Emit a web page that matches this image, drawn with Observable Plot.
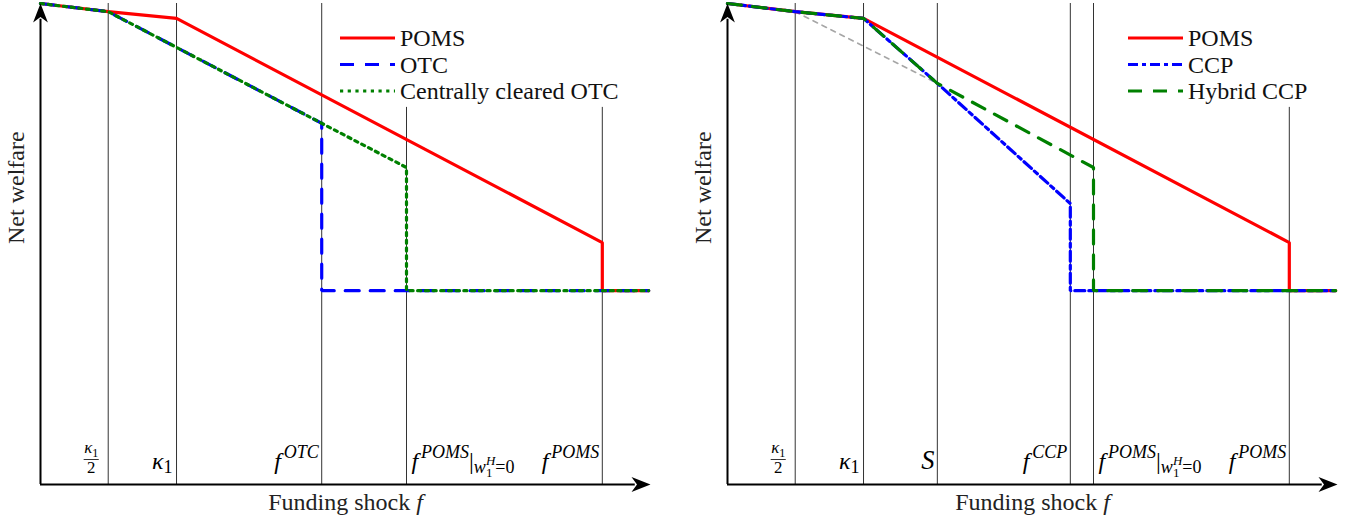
<!DOCTYPE html>
<html>
<head>
<meta charset="utf-8">
<script src="https://cdn.jsdelivr.net/npm/d3@7"></script>
<script src="https://cdn.jsdelivr.net/npm/@observablehq/plot@0.6"></script>
<style>
html,body{margin:0;padding:0;background:#fff;}
#root{position:relative;width:1356px;height:521px;overflow:hidden;background:#fff;}
.panel{position:absolute;top:0;height:521px;}
.panel svg{position:absolute;left:0;top:0;}
.panel svg text, .panel svg tspan{font-family:'Liberation Serif','Times New Roman',serif;}
</style>
</head>
<body>
<div id="root"></div>
<script>
// ================= DATA =================
// x: funding shock f (0..100 = axis length), y: net welfare (0..100 = axis height)
const xAxisEnd = 100, yAxisEnd = 100;

// ---- left panel ----
const cutsLeft      = [11.1, 22.3, 46.1, 60.0, 92.1];
const cutsLeftTop   = [100, 100, 100, 78.4, 78.4];
const cutLabelsLeft = ["$\\frac{\\kappa_1}{2}$", "$\\kappa_1$", "$f^{OTC}$", "$f^{POMS}|_{w_1^H=0}$", "$f^{POMS}$"];
const seriesLeft    = ["POMS", "OTC", "Centrally cleared OTC"];
const pomsLeftF  = [0, 11.1, 22.3, 92.1, 92.1, 99.7];
const pomsLeftW  = [100, 98.3, 96.9, 50.3, 40.3, 40.3];
const otcF       = [0, 11.1, 46.1, 46.1, 99.7];
const otcW       = [100, 98.3, 75.1, 40.3, 40.3];
const ccOtcF     = [0, 11.1, 46.1, 60.0, 60.0, 99.7];
const ccOtcW     = [100, 98.3, 75.1, 65.9, 40.3, 40.3];

// ---- right panel ----
const cutsRight      = [11.1, 22.3, 34.4, 56.2, 60.0, 92.1];
const cutsRightTop   = [100, 100, 100, 100, 100, 78.4];
const cutLabelsRight = ["$\\frac{\\kappa_1}{2}$", "$\\kappa_1$", "$\\mathcal{S}$", "$f^{CCP}$", "$f^{POMS}|_{w_1^H=0}$", "$f^{POMS}$"];
const seriesRight    = ["POMS", "CCP", "Hybrid CCP"];
const pomsRightF = [0, 11.1, 22.3, 92.1, 92.1, 99.7];
const pomsRightW = [100, 98.3, 96.9, 50.3, 40.3, 40.3];
const ccpF       = [0, 11.1, 22.3, 34.4, 56.2, 56.2, 99.7];
const ccpW       = [100, 98.3, 96.9, 83.4, 58.4, 40.3, 40.3];
const hybridF    = [0, 11.1, 22.3, 34.4, 60.0, 60.0, 99.7];
const hybridW    = [100, 98.3, 96.9, 83.4, 65.9, 40.3, 40.3];
const refF       = [11.1, 34.4];
const refW       = [98.3, 83.4];

const xTitle = "Funding shock $f$";
const yTitle = "Net welfare";

// ================= STYLES =================
const FONT = "'Liberation Serif','Times New Roman',serif";
const seriesStyle = {
  "POMS": {stroke: "#ff0000", dash: null},
  "OTC": {stroke: "#0000ff", dash: "14,11"},
  "Centrally cleared OTC": {stroke: "#008000", dash: "3.2,4.5"},
  "CCP": {stroke: "#0000ff", dash: "10,4,4,4"},
  "Hybrid CCP": {stroke: "#008000", dash: "14,11"}
};
const labelStyle = {
  "$\\frac{\\kappa_1}{2}$": {anchor: "middle", dx: -17},
  "$\\kappa_1$": {anchor: "end", dx: -4},
  "$f^{OTC}$": {anchor: "end", dx: -3},
  "$f^{CCP}$": {anchor: "end", dx: -3},
  "$\\mathcal{S}$": {anchor: "end", dx: -3},
  "$f^{POMS}|_{w_1^H=0}$": {anchor: "start", dx: 5},
  "$f^{POMS}$": {anchor: "end", dx: -3}
};
const TICK_SIZE = 24;

const rows = (F, W) => F.map((f, i) => ({f, w: W[i]}));

// arrowheads (tip at origin)
const stealthUp = {draw(c) { c.moveTo(0, 0); c.lineTo(7.4, 19); c.lineTo(0, 13.5); c.lineTo(-7.4, 19); c.closePath(); }};
const stealthRight = {draw(c) { c.moveTo(0, 0); c.lineTo(-19, 7.4); c.lineTo(-13.5, 0); c.lineTo(-19, -7.4); c.closePath(); }};

// ================= RICH TEXT =================
const mctx = document.createElement("canvas").getContext("2d");
function runWidth(r) { mctx.font = `${r.italic ? "italic " : ""}${r.size}px 'Liberation Serif', serif`; return mctx.measureText(r.text).width; }
function widthOf(runs) { return runs.reduce((s, r) => s + runWidth(r), 0); }
function readGroup(s, i) {
  if (s[i] === "{") {
    let depth = 0, j = i;
    for (; j < s.length; j++) { if (s[j] === "{") depth++; else if (s[j] === "}") { depth--; if (depth === 0) break; } }
    return {content: s.slice(i + 1, j), end: j + 1};
  }
  if (s[i] === "\\") { const m = /^\\[a-zA-Z]+/.exec(s.slice(i)); return {content: m[0], end: i + m[0].length}; }
  return {content: s[i], end: i + 1};
}
function parseMath(s, size, shift, level, out) {
  let i = 0, lastSub = null;
  while (i < s.length) {
    const c = s[i];
    if (c === "^" || c === "_") {
      const g = readGroup(s, i + 1); i = g.end;
      const ss = level === 0 ? size * 0.75 : size * 0.72;
      const sh = c === "^" ? shift + size * 0.45 : shift - size * (level === 0 ? 0.18 : 0.25);
      const prev = out[out.length - 1];
      const start = out.length;
      parseMath(g.content, ss, sh, level + 1, out);
      if (c === "^" && lastSub) out[start].dx = -lastSub;
      else if (c === "^" && prev && prev.text === "f") out[start].dx = size * 0.12;
      lastSub = c === "_" ? widthOf(out.slice(start)) : null;
      continue;
    }
    lastSub = null;
    if (c === "\\") {
      const m = /^\\([a-zA-Z]+)/.exec(s.slice(i)); i += m[0].length;
      if (m[1] === "kappa") out.push({text: "κ", italic: true, size, shift});
      else if (m[1] === "mathcal") { const g = readGroup(s, i); i = g.end; out.push({text: g.content, italic: true, size: size * 1.1, shift}); }
      continue;
    }
    if (c === "{" || c === "}") { i++; continue; }
    out.push({text: c, italic: /[A-Za-z]/.test(c), size, shift});
    i++;
  }
}
function parseRich(src, size) {
  const out = [];
  src.split("$").forEach((seg, k) => {
    if (!seg) return;
    if (k % 2) parseMath(seg, size, 0, 0, out);
    else out.push({text: seg, italic: false, size, shift: 0});
  });
  const merged = [];
  for (const r of out) {
    const p = merged[merged.length - 1];
    if (p && !r.dx && p.italic === r.italic && p.size === r.size && p.shift === r.shift) p.text += r.text;
    else merged.push({...r});
  }
  return merged;
}
const NS = "http://www.w3.org/2000/svg";
function appendRuns(el, runs, first) {
  let cur = 0;
  runs.forEach((r, k) => {
    const t = document.createElementNS(NS, "tspan");
    t.textContent = r.text;
    t.setAttribute("font-size", r.size);
    t.setAttribute("font-style", r.italic ? "italic" : "normal");
    if (k === 0 && first) { t.setAttribute("x", first.x); t.setAttribute("y", first.y - r.shift); }
    else { const d = cur - r.shift; if (d) t.setAttribute("dy", d); }
    cur = r.shift;
    if (r.dx) t.setAttribute("dx", r.dx);
    el.appendChild(t);
  });
}
function renderRich(el, src, size) {
  while (el.firstChild) el.removeChild(el.firstChild);
  const frac = /^\$\\frac\{(.*)\}\{(.*)\}\$$/.exec(src);
  if (frac) {
    const num = [], den = [];
    parseMath(frac[1], size * 0.7, 0, 1, num);
    parseMath(frac[2], size * 0.7, 0, 1, den);
    appendRuns(el, num, {x: 0, y: -16});
    appendRuns(el, den, {x: 0, y: 4});
    const w = Math.max(widthOf(num), widthOf(den)) + 1;
    const line = document.createElementNS(NS, "line");
    const tr = el.getAttribute("transform");
    if (tr) line.setAttribute("transform", tr);
    line.setAttribute("x1", -w / 2); line.setAttribute("x2", w / 2);
    line.setAttribute("y1", -9); line.setAttribute("y2", -9);
    line.setAttribute("stroke", "black"); line.setAttribute("stroke-width", 0.8);
    el.parentNode.appendChild(line);
    return;
  }
  appendRuns(el, parseRich(src, size), null);
}

// ================= PANELS =================
function makePanel(cfg) {
  const cutRows = cfg.cuts.map((f, i) => ({f, top: cfg.cutsTop[i], label: cfg.labels[i]}));
  const marks = [
    Plot.ruleX(cutRows, {x: "f", y1: 0, y2: "top", stroke: "#333", strokeWidth: 1})
  ];
  if (cfg.ref) marks.push(Plot.line(cfg.ref, {x: "f", y: "w", stroke: "#a6a6a6", strokeWidth: 1.6, strokeDasharray: "5,5"}));
  for (const s of cfg.lines) {
    const st = seriesStyle[s.name];
    marks.push(Plot.line(s.rows, {x: "f", y: "w", stroke: st.stroke, strokeWidth: 3.2, strokeDasharray: st.dash || undefined, strokeLinejoin: "miter"}));
  }
  marks.push(
    Plot.ruleY([0], {x1: 0, x2: xAxisEnd - 2.5, stroke: "black", strokeWidth: 2}),
    Plot.ruleX([0], {y1: 0, y2: yAxisEnd - 3.3, stroke: "black", strokeWidth: 2}),
    Plot.dot([{f: xAxisEnd, w: 0}], {x: "f", y: "w", symbol: stealthRight, fill: "black", stroke: "none", r: 5}),
    Plot.dot([{f: 0, w: yAxisEnd}], {x: "f", y: "w", symbol: stealthUp, fill: "black", stroke: "none", r: 5})
  );
  for (const d of cutRows) {
    const ls = labelStyle[d.label];
    marks.push(Plot.text([d], {x: "f", y: () => 0, text: "label", textAnchor: ls.anchor, dx: ls.dx, dy: -16, lineAnchor: "bottom", fontSize: TICK_SIZE, fill: "black"}));
  }
  marks.push(
    Plot.text([xTitle], {frameAnchor: "bottom", lineAnchor: "bottom", dy: 25, fontSize: 24, fill: "#222"}),
    Plot.text([yTitle], {frameAnchor: "left", rotate: -90, dx: -24, fontSize: 24, fill: "#222"})
  );
  const svg = Plot.plot({
    width: cfg.width, height: 521,
    marginLeft: 40, marginRight: cfg.width - 650, marginTop: 3, marginBottom: 37,
    x: {domain: [0, xAxisEnd], axis: null},
    y: {domain: [0, yAxisEnd], axis: null},
    style: {fontFamily: FONT, fontSize: "22px", background: "white", overflow: "visible"},
    marks
  });
  const div = document.createElement("div");
  div.className = "panel";
  div.style.left = cfg.left + "px";
  div.style.width = cfg.width + "px";
  div.appendChild(svg);
  document.getElementById("root").appendChild(div);
  svg.querySelectorAll("text").forEach(t => {
    const src = t.textContent;
    if (!src.includes("$")) return;
    const fs = parseFloat(t.parentNode.getAttribute("font-size") || t.getAttribute("font-size") || "22") || 22;
    renderRich(t, src, fs);
  });
  // legend
  const lg = d3.select(div).append("svg").attr("width", cfg.width).attr("height", 521)
    .style("pointer-events", "none");
  cfg.series.forEach((name, i) => {
    const st = seriesStyle[name];
    const y = cfg.legend.y0 + i * 26.5;
    lg.append("line").attr("x1", cfg.legend.x).attr("x2", cfg.legend.x + 55).attr("y1", y).attr("y2", y)
      .attr("stroke", st.stroke).attr("stroke-width", 3.2).attr("stroke-dasharray", st.dash);
    lg.append("text").attr("x", cfg.legend.x + 60).attr("y", y + 8).attr("font-size", 24).attr("fill", "#111").text(name);
  });
}

makePanel({
  left: 0, width: 687,
  cuts: cutsLeft, cutsTop: cutsLeftTop, labels: cutLabelsLeft, series: seriesLeft,
  lines: [
    {name: "POMS", rows: rows(pomsLeftF, pomsLeftW)},
    {name: "OTC", rows: rows(otcF, otcW)},
    {name: "Centrally cleared OTC", rows: rows(ccOtcF, ccOtcW)}
  ],
  legend: {x: 340, y0: 38}
});
makePanel({
  left: 687, width: 669,
  cuts: cutsRight, cutsTop: cutsRightTop, labels: cutLabelsRight, series: seriesRight,
  ref: rows(refF, refW),
  lines: [
    {name: "POMS", rows: rows(pomsRightF, pomsRightW)},
    {name: "CCP", rows: rows(ccpF, ccpW)},
    {name: "Hybrid CCP", rows: rows(hybridF, hybridW)}
  ],
  legend: {x: 441, y0: 38}
});
</script>
</body>
</html>
